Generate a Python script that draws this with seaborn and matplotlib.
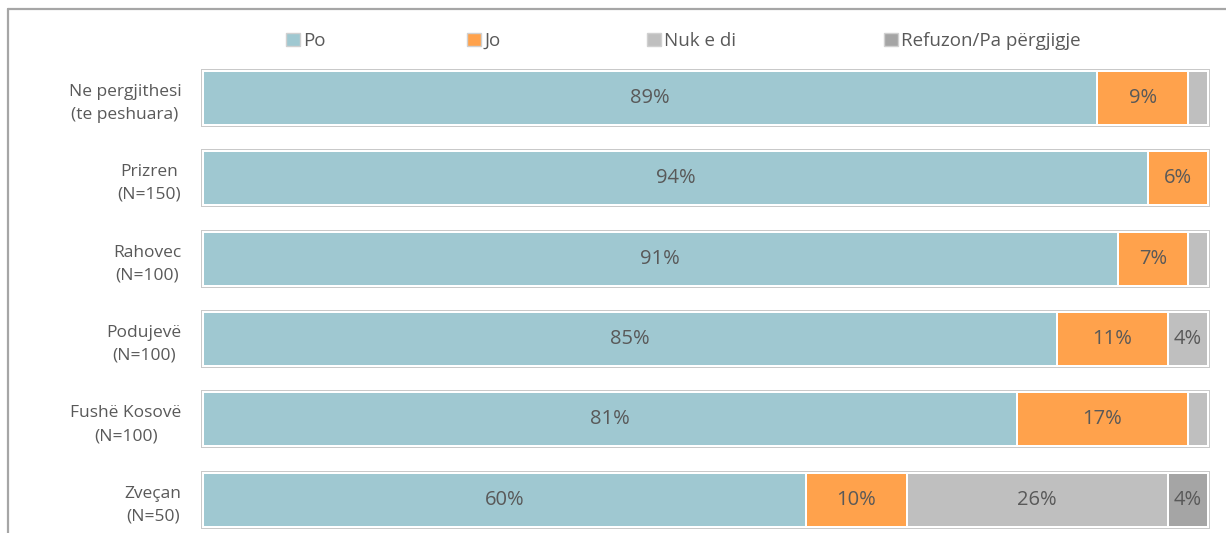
import numpy as np
import pandas as pd
import seaborn as sns
import matplotlib.pyplot as plt
from matplotlib.patches import Patch
from matplotlib.lines import Line2D

categories = ["Ne pergjithesi\n(te peshuara)", "Prizren\n(N=150)", "Rahovec\n(N=100)",
              "Podujevë\n(N=100)", "Fushë Kosovë\n(N=100)", "Zveçan\n(N=50)"]
series = ["Po", "Jo", "Nuk e di", "Refuzon/Pa përgjigje"]
po = [89, 94, 91, 85, 81, 60]
jo = [9, 6, 7, 11, 17, 10]
nuk_e_di = [2, 0, 2, 4, 2, 26]
refuzon = [0, 0, 0, 0, 0, 4]
colors = ["#9FC8D1", "#FFA24C", "#BFBFBF", "#A5A5A5"]

text_col = "#595959"
sns.set_style("white")
plt.rcParams["font.family"] = ["Open Sans", "DejaVu Sans"]

df = pd.DataFrame({"cat": categories, "Po": po, "Jo": jo,
                   "Nuk e di": nuk_e_di, "Refuzon/Pa përgjigje": refuzon})
cum = df[series].cumsum(axis=1)

fig = plt.figure(figsize=(12.26, 5.33), dpi=100)
px = 72 / 100  # points per pixel
ax = fig.add_axes([198 / 1226, 0, 1015 / 1226, (533 - 57.8) / 533])

bar_h = 0.672
# outer light-gray frame of each bar
sns.barplot(x=[100] * len(categories), y=categories, orient="h", color="white",
            saturation=1, width=bar_h, edgecolor="#C9C9C9", linewidth=4 * px, ax=ax)
# stacked segments, drawn from the full total down to the first series
for s, c in reversed(list(zip(series, colors))):
    sns.barplot(x=cum[s], y=df["cat"], orient="h", color=c, saturation=1,
                width=bar_h, edgecolor="white", linewidth=2 * px, ax=ax)

for i in range(len(categories)):
    for s in series:
        v = df.loc[i, s]
        if v >= 3:
            ax.text(cum.loc[i, s] - v / 2, i, f"{v}%", ha="center", va="center",
                    fontsize=14.5, color=text_col)

ax.set_xlim(-5 / 10.05, 100 + 5 / 10.05)
ax.set_ylim(5.5 - 7 / 80.4, -0.5)
ax.set_xlabel("")
ax.set_ylabel("")
ax.set_xticks([])
ax.tick_params(axis="y", length=0, pad=12)
for lab in ax.get_yticklabels():
    lab.set_color(text_col)
    lab.set_fontsize(12.5)
    lab.set_linespacing(1.55)
    lab.set_multialignment("center")
sns.despine(ax=ax, left=True, bottom=True)

# legend, one entry per slot like the original
leg_x = [286, 467, 647, 884]
for s, c, x in zip(series, colors, leg_x):
    h = Patch(facecolor=c, edgecolor="#D0D0D0", linewidth=1)
    fig.legend(handles=[h], labels=[s], loc="center left",
               bbox_to_anchor=(x / 1226, 1 - 41 / 533), frameon=False,
               handlelength=0.72, handleheight=0.72, handletextpad=0.2,
               borderpad=0, borderaxespad=0, fontsize=13.5, labelcolor=text_col)

# frame of the original image (top and left edges)
fig.add_artist(Line2D([8 / 1226, 1], [1 - 9 / 533] * 2, color="#A6A6A6", lw=2.2 * px))
fig.add_artist(Line2D([8 / 1226] * 2, [0, 1 - 9 / 533], color="#A6A6A6", lw=2.2 * px))

fig.savefig("out.png", dpi=100)
